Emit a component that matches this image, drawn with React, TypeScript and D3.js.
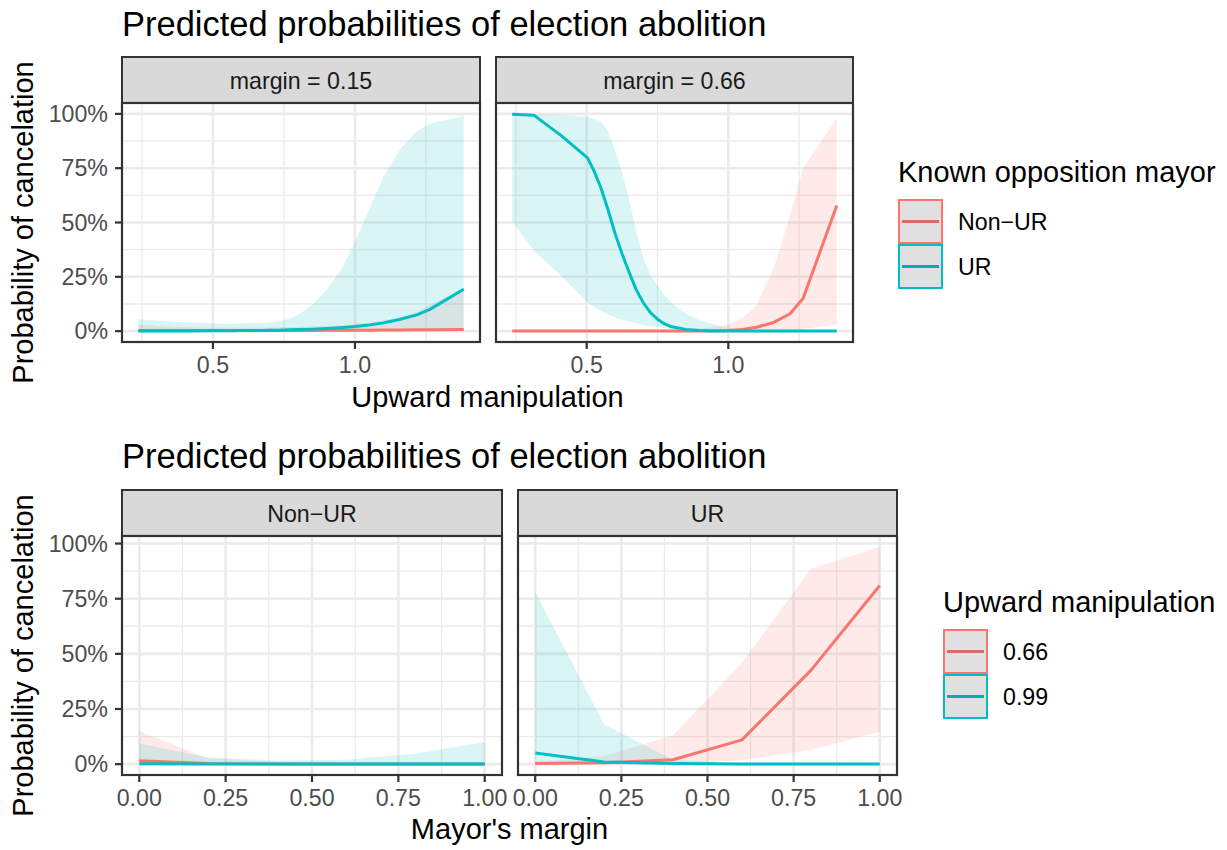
import React from 'react';
import * as d3 from 'd3';

const RED = '#F8766D';
const CYAN = '#00BFC4';
const FONT = '"Liberation Sans", Arial, Helvetica, sans-serif';

// ---- top plot: x = upward manipulation, facets by mayor's margin ----
const manipX = [0.237, 0.313, 0.41, 0.503, 0.525, 0.55, 0.575, 0.6, 0.625, 0.65, 0.675, 0.7, 0.725, 0.75, 0.775, 0.8, 0.85, 0.9, 0.95, 1.0, 1.05, 1.1, 1.16, 1.218, 1.264, 1.383];
const topStrips = ['margin = 0.15', 'margin = 0.66'];
const topGroups = ['Non\u2212UR', 'UR'];

// margin = 0.15
const nonUR015Fit = [0.003, 0.003, 0.003, 0.003, 0.003, 0.003, 0.003, 0.003, 0.003, 0.003, 0.003, 0.003, 0.003, 0.003, 0.003, 0.003, 0.003, 0.004, 0.004, 0.004, 0.004, 0.005, 0.005, 0.006, 0.006, 0.008];
const nonUR015Lo = [0, 0, 0, 0, 0, 0, 0, 0, 0, 0, 0, 0, 0, 0, 0, 0, 0, 0, 0, 0, 0, 0, 0, 0, 0, 0];
const nonUR015Hi = [0.03, 0.022, 0.018, 0.016, 0.016, 0.016, 0.016, 0.016, 0.016, 0.017, 0.017, 0.018, 0.018, 0.019, 0.019, 0.02, 0.022, 0.025, 0.028, 0.033, 0.04, 0.05, 0.065, 0.09, 0.12, 0.2];
const ur015Fit = [0.001, 0.001, 0.001, 0.002, 0.002, 0.002, 0.002, 0.003, 0.003, 0.003, 0.003, 0.004, 0.004, 0.005, 0.006, 0.007, 0.009, 0.012, 0.016, 0.021, 0.028, 0.038, 0.055, 0.075, 0.1, 0.193];
const ur015Lo = [0, 0, 0, 0, 0, 0, 0, 0, 0, 0, 0, 0, 0, 0, 0, 0, 0, 0, 0, 0, 0, 0, 0, 0, 0, 0];
const ur015Hi = [0.055, 0.048, 0.04, 0.035, 0.034, 0.034, 0.034, 0.035, 0.036, 0.037, 0.038, 0.04, 0.044, 0.05, 0.06, 0.075, 0.12, 0.19, 0.28, 0.41, 0.56, 0.71, 0.84, 0.92, 0.955, 0.99];

// margin = 0.66
const nonUR066Fit = [0.001, 0.001, 0.001, 0.001, 0.001, 0.001, 0.001, 0.001, 0.001, 0.001, 0.001, 0.001, 0.001, 0.001, 0.001, 0.001, 0.001, 0.001, 0.001, 0.003, 0.008, 0.018, 0.04, 0.08, 0.15, 0.578];
const nonUR066Lo = [0, 0, 0, 0, 0, 0, 0, 0, 0, 0, 0, 0, 0, 0, 0, 0, 0, 0, 0, 0, 0, 0, 0, 0, 0.01, 0.03];
const nonUR066Hi = [0.004, 0.004, 0.004, 0.004, 0.004, 0.004, 0.004, 0.004, 0.004, 0.004, 0.004, 0.004, 0.004, 0.004, 0.005, 0.006, 0.008, 0.012, 0.018, 0.032, 0.06, 0.12, 0.29, 0.53, 0.75, 0.98];
const ur066Fit = [0.998, 0.994, 0.9, 0.797, 0.74, 0.66, 0.56, 0.45, 0.355, 0.27, 0.19, 0.13, 0.085, 0.055, 0.033, 0.02, 0.008, 0.003, 0.001, 0.001, 0.001, 0.001, 0.001, 0.001, 0.001, 0.001];
const ur066Lo = [0.506, 0.37, 0.254, 0.133, 0.112, 0.093, 0.077, 0.063, 0.052, 0.043, 0.035, 0.028, 0.022, 0.018, 0.014, 0.01, 0.005, 0.002, 0.001, 0, 0, 0, 0, 0, 0, 0];
const ur066Hi = [1.0, 0.998, 0.995, 0.985, 0.978, 0.965, 0.92, 0.83, 0.73, 0.605, 0.46, 0.335, 0.26, 0.21, 0.165, 0.13, 0.08, 0.05, 0.03, 0.017, 0.008, 0.004, 0.003, 0.003, 0.003, 0.003];

// ---- bottom plot: x = mayor's margin, facets by known opposition mayor ----
const marginX = [0, 0.2, 0.4, 0.6, 0.8, 1.0];
const botStrips = ['Non\u2212UR', 'UR'];
const botGroups = ['0.66', '0.99'];

const nonURm066Fit = [0.015, 0.003, 0.001, 0.001, 0.001, 0.001];
const nonURm066Lo = [0, 0, 0, 0, 0, 0];
const nonURm066Hi = [0.15, 0.025, 0.012, 0.01, 0.01, 0.01];
const nonURm099Fit = [0.002, 0.001, 0.001, 0.001, 0.001, 0.001];
const nonURm099Lo = [0, 0, 0, 0, 0, 0];
const nonURm099Hi = [0.093, 0.03, 0.017, 0.02, 0.047, 0.1];

const urM066Fit = [0.003, 0.006, 0.02, 0.11, 0.425, 0.81];
const urM066Lo = [0, 0, 0.002, 0.018, 0.064, 0.147];
const urM066Hi = [0.01, 0.037, 0.13, 0.46, 0.885, 0.985];
const urM099Fit = [0.05, 0.01, 0.003, 0.001, 0.001, 0.001];
const urM099Lo = [0, 0, 0, 0, 0, 0];
const urM099Hi = [0.78, 0.18, 0.02, 0.005, 0.004, 0.004];

// ticks
const yMajor = [0, 0.25, 0.5, 0.75, 1];
const yMinor = [0.125, 0.375, 0.625, 0.875];
const topXMajor = [0.5, 1.0];
const topXMinor = [0.25, 0.75, 1.25];
const botXMajor = [0, 0.25, 0.5, 0.75, 1];
const botXMinor = [0.125, 0.375, 0.625, 0.875];

// ggplot-style 5% expansion
const expand = (ext: number[]) => {
  const pad = (ext[1] - ext[0]) * 0.05;
  return [ext[0] - pad, ext[1] + pad];
};

type Series = { color: string; xs: number[]; fit: number[]; lo: number[]; hi: number[] };

const Facet = ({ id, x0, x1, stripTop, panelTop, panelBottom, xDomain, yDomain, label, series, xMajor, xMinor, xFmt, showY }: any) => {
  const x = d3.scaleLinear().domain(xDomain).range([x0, x1]);
  const y = d3.scaleLinear().domain(yDomain).range([panelBottom, panelTop]);
  const yFmt = d3.format('.0%');

  const area = (s: Series) =>
    d3.area<number>()
      .x((_, i) => x(s.xs[i]))
      .y0((_, i) => y(s.lo[i]))
      .y1((_, i) => y(s.hi[i]))(s.fit);
  const line = (s: Series) =>
    d3.line<number>()
      .x((_, i) => x(s.xs[i]))
      .y(d => y(d))(s.fit);

  return (
    <g>
      <defs>
        <clipPath id={id}>
          <rect x={x0} y={panelTop} width={x1 - x0} height={panelBottom - panelTop} />
        </clipPath>
      </defs>
      {/* strip */}
      <rect x={x0} y={stripTop} width={x1 - x0} height={panelTop - stripTop} fill="#D9D9D9" stroke="#333333" strokeWidth={2} />
      <text x={(x0 + x1) / 2} y={(stripTop + panelTop) / 2 + 8.5} textAnchor="middle" fontSize={23.2} fill="#1A1A1A">{label}</text>

      {/* panel */}
      <rect x={x0} y={panelTop} width={x1 - x0} height={panelBottom - panelTop} fill="#fff" />
      <g clipPath={`url(#${id})`}>
        {yMinor.map(v => <line key={'ym' + v} x1={x0} x2={x1} y1={y(v)} y2={y(v)} stroke="#EBEBEB" strokeWidth={1.3} />)}
        {xMinor.map((v: number) => <line key={'xm' + v} x1={x(v)} x2={x(v)} y1={panelTop} y2={panelBottom} stroke="#EBEBEB" strokeWidth={1.3} />)}
        {yMajor.map(v => <line key={'yM' + v} x1={x0} x2={x1} y1={y(v)} y2={y(v)} stroke="#EBEBEB" strokeWidth={2.6} />)}
        {xMajor.map((v: number) => <line key={'xM' + v} x1={x(v)} x2={x(v)} y1={panelTop} y2={panelBottom} stroke="#EBEBEB" strokeWidth={2.6} />)}
        {series.map((s: Series, i: number) => <path key={'a' + i} d={area(s) || ''} fill={s.color} fillOpacity={0.15} />)}
        {series.map((s: Series, i: number) => <path key={'l' + i} d={line(s) || ''} fill="none" stroke={s.color} strokeWidth={3} strokeLinejoin="round" />)}
      </g>
      <rect x={x0} y={panelTop} width={x1 - x0} height={panelBottom - panelTop} fill="none" stroke="#333333" strokeWidth={2.2} />

      {/* x axis */}
      {xMajor.map((v: number) => (
        <g key={'xt' + v}>
          <line x1={x(v)} x2={x(v)} y1={panelBottom} y2={panelBottom + 7} stroke="#333333" strokeWidth={2.2} />
          <text x={x(v)} y={panelBottom + 31} textAnchor="middle" fontSize={23.2} fill="#4D4D4D">{xFmt(v)}</text>
        </g>
      ))}

      {/* y axis */}
      {showY && yMajor.map(v => (
        <g key={'yt' + v}>
          <line x1={x0 - 7} x2={x0} y1={y(v)} y2={y(v)} stroke="#333333" strokeWidth={2.2} />
          <text x={x0 - 14} y={y(v) + 8.3} textAnchor="end" fontSize={23.2} fill="#4D4D4D">{yFmt(v)}</text>
        </g>
      ))}
    </g>
  );
};

const Legend = ({ x, y, title, labels, colors, keyColors }: any) => {
  const key = 45;
  const top = y + 17;
  return (
    <g>
      <text x={x} y={y} fontSize={29} fill="#000">{title}</text>
      {labels.map((lab: string, i: number) => (
        <g key={lab}>
          <rect x={x} y={top + i * key} width={key} height={key} fill="#E0E0E0" />
          <line x1={x + 4} x2={x + key - 4} y1={top + i * key + key / 2} y2={top + i * key + key / 2} stroke={keyColors[i]} strokeWidth={3} />
          <rect x={x + 1} y={top + i * key + 1} width={key - 2} height={key - 2} fill="none" stroke={colors[i]} strokeWidth={2} />
          <text x={x + 60} y={top + i * key + key / 2 + 8.5} fontSize={23.2} fill="#000">{lab}</text>
        </g>
      ))}
    </g>
  );
};

const App = () => {
  const topSeries: Series[][] = [
    [
      { color: RED, xs: manipX, fit: nonUR015Fit, lo: nonUR015Lo, hi: nonUR015Hi },
      { color: CYAN, xs: manipX, fit: ur015Fit, lo: ur015Lo, hi: ur015Hi },
    ],
    [
      { color: RED, xs: manipX, fit: nonUR066Fit, lo: nonUR066Lo, hi: nonUR066Hi },
      { color: CYAN, xs: manipX, fit: ur066Fit, lo: ur066Lo, hi: ur066Hi },
    ],
  ];
  const botSeries: Series[][] = [
    [
      { color: RED, xs: marginX, fit: nonURm066Fit, lo: nonURm066Lo, hi: nonURm066Hi },
      { color: CYAN, xs: marginX, fit: nonURm099Fit, lo: nonURm099Lo, hi: nonURm099Hi },
    ],
    [
      { color: RED, xs: marginX, fit: urM066Fit, lo: urM066Lo, hi: urM066Hi },
      { color: CYAN, xs: marginX, fit: urM099Fit, lo: urM099Lo, hi: urM099Hi },
    ],
  ];

  const allY = (ss: Series[][]) => ss.flat().flatMap(s => [...s.lo, ...s.hi, ...s.fit]);
  const topY = expand(d3.extent(allY(topSeries)) as number[]);
  const botY = expand(d3.extent(allY(botSeries)) as number[]);
  const topXD = expand(d3.extent(manipX) as number[]);
  const botXD = expand(d3.extent(marginX) as number[]);

  const topPanels = [[122, 480], [496, 853]];
  const botPanels = [[122, 502], [518, 897]];

  return (
    <svg width={1227} height={850} style={{ position: 'absolute', left: 0, top: 0, background: '#fff' }} fontFamily={FONT}>
      <rect width={1227} height={850} fill="#fff" />

      {/* top plot */}
      <text x={122} y={36} fontSize={34.5} fill="#000">Predicted probabilities of election abolition</text>
      {topPanels.map((p, i) => (
        <Facet key={'t' + i} id={'clipT' + i} x0={p[0]} x1={p[1]} stripTop={57} panelTop={103} panelBottom={342}
          xDomain={topXD} yDomain={topY} label={topStrips[i]} series={topSeries[i]}
          xMajor={topXMajor} xMinor={topXMinor} xFmt={d3.format('.1f')} showY={i === 0} />
      ))}
      <text transform={`translate(33,${(103 + 342) / 2}) rotate(-90)`} textAnchor="middle" fontSize={29} fill="#000">Probability of cancelation</text>
      <text x={(122 + 853) / 2} y={407} textAnchor="middle" fontSize={29} fill="#000">Upward manipulation</text>
      <Legend x={898} y={182} title="Known opposition mayor" labels={topGroups} colors={[RED, CYAN]} keyColors={['#DA6C64', '#07AAAE']} />

      {/* bottom plot */}
      <text x={122} y={468} fontSize={34.5} fill="#000">Predicted probabilities of election abolition</text>
      {botPanels.map((p, i) => (
        <Facet key={'b' + i} id={'clipB' + i} x0={p[0]} x1={p[1]} stripTop={490} panelTop={536} panelBottom={775}
          xDomain={botXD} yDomain={botY} label={botStrips[i]} series={botSeries[i]}
          xMajor={botXMajor} xMinor={botXMinor} xFmt={d3.format('.2f')} showY={i === 0} />
      ))}
      <text transform={`translate(33,${(536 + 775) / 2}) rotate(-90)`} textAnchor="middle" fontSize={29} fill="#000">Probability of cancelation</text>
      <text x={(122 + 897) / 2} y={839} textAnchor="middle" fontSize={29} fill="#000">Mayor's margin</text>
      <Legend x={943} y={612} title="Upward manipulation" labels={botGroups} colors={[RED, CYAN]} keyColors={['#DA6C64', '#07AAAE']} />
    </svg>
  );
};

export default App;
